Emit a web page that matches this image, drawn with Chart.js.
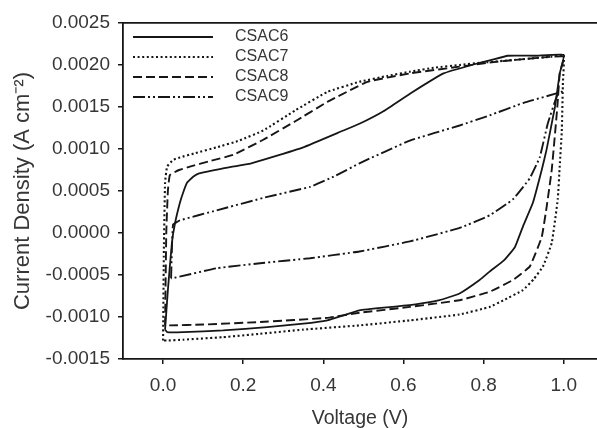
<!DOCTYPE html>
<html>
<head>
<meta charset="utf-8">
<title>CSAC cyclic voltammetry</title>
<script src="https://cdn.jsdelivr.net/npm/chart.js@4/dist/chart.umd.min.js"></script>
<style>
  html, body { margin: 0; padding: 0; background: #fff; }
  #wrap { width: 597px; height: 428px; }
</style>
</head>
<body>
<div id="wrap"><canvas id="cv" width="597" height="428"></canvas></div>
<script>
// ── Data (voltage in V, current density in A cm-2) ─────────────────────────
const seriesNames = ['CSAC6', 'CSAC7', 'CSAC8', 'CSAC9'];

const csac6V = [0.005, 0.012, 0.022, 0.03, 0.042, 0.05, 0.06, 0.075, 0.09, 0.15,
  0.22, 0.27, 0.35, 0.45, 0.49, 0.55, 0.62, 0.70, 0.77, 0.82,
  0.86, 0.93, 1.0, 0.99, 0.978, 0.957, 0.945, 0.923, 0.9, 0.878,
  0.85, 0.815, 0.79, 0.74, 0.69, 0.63, 0.57, 0.49, 0.45, 0.41,
  0.35, 0.26, 0.15, 0.05, 0.01, 0.005];
const csac6J = [-0.00115, -0.00068, -0.00012, 0.00012, 0.00036, 0.00048, 0.0006, 0.00067, 0.00071, 0.00077,
  0.00083, 0.0009, 0.00102, 0.00122, 0.0013, 0.00145, 0.00167, 0.0019, 0.002, 0.00206,
  0.00211, 0.00211, 0.00212, 0.0019, 0.0015, 0.00099, 0.00075, 0.00036, 0.0001, -0.00017,
  -0.00033, -0.00046, -0.00056, -0.00072, -0.0008, -0.00085, -0.00088, -0.00092, -0.00098, -0.00104,
  -0.00108, -0.00112, -0.00116, -0.00118, -0.00118, -0.00115];

const csac7V = [0.0, 0.002, 0.005, 0.01, 0.025, 0.042, 0.08, 0.134, 0.19, 0.25,
  0.33, 0.41, 0.49, 0.56, 0.616, 0.68, 0.74, 0.8, 0.9, 0.97,
  1.0, 0.998, 0.995, 0.99, 0.985, 0.97, 0.948, 0.925, 0.898, 0.85,
  0.815, 0.74, 0.616, 0.49, 0.35, 0.242, 0.15, 0.05, 0.01, 0.0];
const csac7J = [-0.00128, -0.0002, 0.0006, 0.00079, 0.00087, 0.0009, 0.00095, 0.00102, 0.0011, 0.00122,
  0.00146, 0.00168, 0.0018, 0.00187, 0.00192, 0.00197, 0.002, 0.00203, 0.00207, 0.0021,
  0.00212, 0.0018, 0.0012, 0.0008, 0.0004, -0.00012, -0.0004, -0.00055, -0.00068, -0.0008,
  -0.00088, -0.00097, -0.00104, -0.0011, -0.00115, -0.0012, -0.00124, -0.00127, -0.00128, -0.00128];

const csac8V = [0.005, 0.008, 0.012, 0.017, 0.04, 0.067, 0.12, 0.175, 0.25, 0.33,
  0.41, 0.51, 0.616, 0.74, 0.815, 0.9, 1.0, 0.99, 0.984, 0.97,
  0.957, 0.945, 0.915, 0.873, 0.815, 0.74, 0.616, 0.49, 0.41, 0.242,
  0.1, 0.017, 0.005];
const csac8J = [-0.0011, 0.0, 0.0005, 0.00069, 0.00075, 0.00079, 0.00086, 0.00093, 0.00111, 0.00133,
  0.00156, 0.0018, 0.0019, 0.00198, 0.00203, 0.00207, 0.0021, 0.0019, 0.0015, 0.00075,
  0.0003, -0.00005, -0.0004, -0.00056, -0.0007, -0.0008, -0.00088, -0.00095, -0.00101, -0.00106,
  -0.00109, -0.0011, -0.0011];

const csac9V = [0.02, 0.022, 0.025, 0.042, 0.134, 0.26, 0.367, 0.43, 0.49, 0.616,
  0.74, 0.815, 0.9, 0.995, 1.0, 0.983, 0.96, 0.94, 0.915, 0.873,
  0.815, 0.74, 0.616, 0.49, 0.367, 0.242, 0.134, 0.022, 0.02];
const csac9J = [-0.00054, -0.0002, 0.0001, 0.00015, 0.00027, 0.00043, 0.00055, 0.00068, 0.00083, 0.0011,
  0.00128, 0.0014, 0.00155, 0.00168, 0.0017, 0.00163, 0.0013, 0.0009, 0.00065, 0.0004,
  0.00021, 0.00006, -0.0001, -0.00022, -0.0003, -0.00036, -0.00042, -0.00054, -0.00054];

const xTicks = [0.0, 0.2, 0.4, 0.6, 0.8, 1.0];
const yTicks = [-0.0015, -0.0010, -0.0005, 0.0, 0.0005, 0.0010, 0.0015, 0.0020, 0.0025];

// ── Styles ────────────────────────────────────────────────────────────────
const FONT = '"Liberation Sans", Arial, Helvetica, sans-serif';
const INK = '#161616';
const TEXT = '#363636';
const dashes = [[], [2, 2.6], [9, 4], [12, 3, 2, 3, 2, 3]];
const widths = [1.8, 2.1, 1.9, 1.9];

const toPoints = (vs, js) => vs.map((v, i) => ({ x: v, y: js[i] }));
const seriesData = [
  toPoints(csac6V, csac6J),
  toPoints(csac7V, csac7J),
  toPoints(csac8V, csac8J),
  toPoints(csac9V, csac9J)
];

// legend drawn inside the plot, top-left
const insideLegend = {
  id: 'insideLegend',
  afterDraw(chart) {
    const ctx = chart.ctx;
    const x0 = chart.chartArea.left + 10;
    ctx.save();
    chart.data.datasets.forEach((ds, i) => {
      const y = chart.chartArea.top + 14 + i * 20;
      ctx.beginPath();
      ctx.setLineDash(ds.borderDash);
      ctx.lineWidth = ds.borderWidth;
      ctx.strokeStyle = ds.borderColor;
      ctx.moveTo(x0, y);
      ctx.lineTo(x0 + 80, y);
      ctx.stroke();
      ctx.setLineDash([]);
      ctx.fillStyle = TEXT;
      ctx.font = '16px ' + FONT;
      ctx.textBaseline = 'middle';
      ctx.textAlign = 'left';
      ctx.fillText(ds.label, x0 + 102, y);
    });
    ctx.restore();
  }
};

const fixTicks = list => scale => { scale.ticks = list.map(v => ({ value: v })); };

new Chart(document.getElementById('cv'), {
  type: 'scatter',
  data: {
    datasets: seriesNames.map((name, i) => ({
      label: name,
      data: seriesData[i],
      showLine: true,
      fill: false,
      borderColor: INK,
      borderWidth: widths[i],
      borderDash: dashes[i],
      pointRadius: 0,
      tension: 0.1
    }))
  },
  options: {
    responsive: false,
    animation: false,
    layout: { padding: 0 },
    plugins: {
      legend: { display: false },
      tooltip: { enabled: false }
    },
    scales: {
      x: {
        type: 'linear',
        position: 'bottom',
        min: -0.1,
        max: 1.083,
        afterBuildTicks: fixTicks(xTicks),
        afterFit: s => { s.height = 69; },
        grid: { drawOnChartArea: false, drawTicks: true, tickLength: 5, color: INK, lineWidth: 1.5 },
        border: { display: true, color: INK, width: 1.8 },
        ticks: {
          color: TEXT, padding: 10, maxRotation: 0,
          font: { family: FONT, size: 19 },
          callback: v => v.toFixed(1)
        },
        title: {
          display: true, text: 'Voltage (V)', color: TEXT,
          font: { family: FONT, size: 19.5 }, padding: { top: 0, bottom: -2 }
        }
      },
      xTop: {
        type: 'linear',
        position: 'top',
        min: -0.1,
        max: 1.083,
        afterFit: s => { s.height = 23; },
        grid: { display: false },
        border: { display: true, color: INK, width: 1.8 },
        ticks: { display: false }
      },
      y: {
        type: 'linear',
        position: 'left',
        min: -0.0015,
        max: 0.0025,
        afterBuildTicks: fixTicks(yTicks),
        afterFit: s => { s.width = 123; },
        grid: { drawOnChartArea: false, drawTicks: true, tickLength: 5, color: INK, lineWidth: 1.5 },
        border: { display: true, color: INK, width: 1.8 },
        ticks: {
          color: TEXT, padding: 8,
          font: { family: FONT, size: 19 },
          callback: v => v.toFixed(4)
        },
        title: {
          display: true, text: 'Current Density (A cm⁻²)', color: TEXT,
          font: { family: FONT, size: 22 }, padding: { top: 10, bottom: 0 }
        }
      }
    }
  },
  plugins: [insideLegend]
});
</script>
</body>
</html>
